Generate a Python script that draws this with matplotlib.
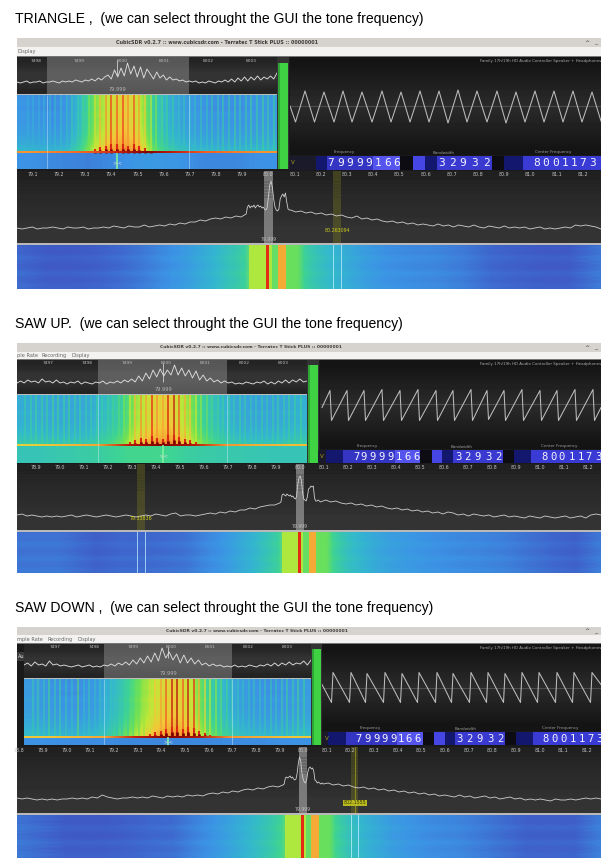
import matplotlib
matplotlib.use("Agg")
import matplotlib.pyplot as plt
import numpy as np
from matplotlib.colors import LinearSegmentedColormap
from matplotlib.patches import Rectangle

W, H = 613, 866

titles = ["TRIANGLE ,  (we can select throught the GUI the tone frequency)",
          "SAW UP.  (we can select throught the GUI the tone frequency)",
          "SAW DOWN ,  (we can select throught the GUI the tone frequency)"]
window_title = "CubicSDR v0.2.7 :: www.cubicsdr.com - Terratec T Stick PLUS :: 00000001"
device_name = "Family 17h/19h HD Audio Controller Speaker + Headphones"

# wide spectrum levels (height above floor), left of carrier / around carrier / right of carrier
tri_left = [15, 14, 15, 16, 14, 15, 15, 16, 15, 14, 16, 15, 15, 16, 14, 15, 15, 16, 15, 17, 16, 15, 17, 16,
            16, 18, 16, 17, 18, 17, 19, 18, 20, 19, 21, 21, 23, 22, 24, 25, 24, 26, 25, 27, 26, 29]
tri_mid = [36, 38, 35, 37, 36, 38, 35, 37, 38, 36, 37, 35, 36, 34, 33, 35, 46, 58, 62, 56, 44, 36, 33,
           32, 34, 44, 47, 49, 46, 50, 41, 34, 33]
tri_right = [33, 31, 32, 30, 31, 29, 30, 28, 29, 27, 28, 26, 25, 27, 24, 25, 23, 24, 22, 21, 22, 20, 21, 19,
             20, 18, 19, 18, 17, 19, 17, 18, 16, 18, 17, 16, 18, 16, 15, 17, 16, 15, 17, 15, 16, 15, 16, 14,
             15, 16, 14, 15, 14, 15, 16, 15, 18, 17, 18, 17, 16, 14]
saw_up_left = [15, 16, 14, 15, 14, 13, 14, 13, 14, 13, 14, 15, 13, 14, 15, 14, 13, 14, 15, 14, 13, 14, 15, 14,
               13, 14, 15, 14, 16, 15, 14, 16, 17, 14, 15, 15, 14, 15, 16, 17, 16, 18, 17, 19, 18, 20,
               20, 22, 21, 23, 24, 25, 25, 27]
saw_up_mid = [28, 35, 36, 35, 34, 36, 35, 34, 35, 33, 34, 32, 31, 33, 45, 52, 54, 50, 38, 31, 30,
              29, 33, 41, 42, 44, 43, 44, 32, 29, 29, 30, 29]
saw_up_right = [28, 30, 28, 29, 27, 26, 27, 25, 26, 24, 25, 23, 24, 22, 21, 22, 20, 21, 19, 20, 18, 19, 17, 18,
                16, 18, 17, 15, 16, 14, 16, 15, 14, 15, 13, 14, 15, 13, 14, 13, 12, 14, 13, 12, 14, 13, 12, 13,
                14, 12, 13, 14, 12, 15, 16, 15]
saw_dn_left = [15, 14, 15, 14, 13, 14, 13, 14, 13, 14, 14, 15, 14, 15, 14, 16, 15, 18, 16, 15, 14, 15, 15, 16,
               15, 16, 15, 17, 16, 15, 17, 16, 17, 16, 18, 17, 18, 17, 19, 20, 19, 21, 20, 22, 21, 23, 24, 23,
               25, 24, 26, 27, 26, 28]
saw_dn_mid = [29, 35, 36, 35, 36, 37, 35, 36, 34, 33, 34, 40, 50, 56, 52, 40, 34, 31, 30,
              33, 41, 45, 46, 44, 45, 42, 33, 32, 30, 31, 30, 29, 30]
saw_dn_right = [29, 30, 28, 29, 27, 28, 26, 25, 26, 24, 25, 23, 24, 22, 23, 21, 22, 20, 21, 19, 20, 18, 19, 17,
                18, 17, 16, 18, 16, 17, 15, 16, 17, 15, 16, 14, 15, 16, 14, 15, 13, 14, 13, 14, 13, 12, 14, 13,
                13, 14, 13, 14, 15, 14, 15, 14]

# zoomed spectrum levels above the waterfall
tri_zoom = [12, 11, 12, 13, 11, 12, 12, 13, 11, 12, 12, 13, 12, 11, 13, 12, 13, 12, 14, 13, 12, 14, 13, 15, 13,
            16, 14, 17, 19, 15, 24, 17, 26, 18, 31, 20, 28, 17, 27, 16, 25, 20, 15, 22, 16, 19, 14, 17, 14, 15,
            13, 14, 12, 13, 12, 13, 11, 12, 11, 13, 12, 11, 13, 12, 14, 12, 15, 12, 16, 13, 17, 13, 17, 14, 18,
            14, 17, 15, 18, 15, 21]
saw_up_zoom = [11, 13, 11, 14, 12, 13, 11, 15, 12, 13, 11, 14, 11, 12, 10, 12, 11, 13, 10, 12, 11, 10, 12, 11,
               13, 10, 12, 11, 13, 11, 14, 12, 15, 12, 18, 13, 21, 15, 24, 17, 25, 18, 24, 19, 29, 19, 26, 18,
               24, 16, 23, 14, 19, 13, 16, 12, 14, 11, 13, 11, 12, 10, 11, 10, 12, 11, 10, 12, 11, 13, 10, 12,
               10, 13, 11, 14, 11, 14, 12, 15, 12, 13]
saw_dn_zoom = [13, 15, 12, 16, 13, 14, 12, 17, 13, 14, 12, 13, 12, 11, 12, 13, 11, 12, 13, 11, 12, 11, 13, 12,
               14, 12, 15, 13, 16, 13, 18, 14, 20, 15, 22, 16, 25, 17, 30, 20, 26, 18, 24, 15, 23, 15, 20, 14,
               18, 13, 15, 12, 14, 12, 13, 11, 12, 11, 13, 11, 12, 11, 13, 12, 11, 13, 12, 14, 12, 15, 12, 15,
               13, 16, 13, 15, 14, 17, 13, 18]

# audio scope turning points: sample, amplitude
tri_scope_t = [0, 5.5, 15, 24.5, 34, 44, 53, 62, 72, 82, 92, 101, 111, 120, 130, 139, 149, 158, 168, 177, 187, 197,
               207, 216, 226, 235, 245, 254, 264, 273, 283, 292, 302, 311]
tri_scope_a = [0, -16, 15, -16, 14, -16, 15, -16, 14, -16, 15, -16, 14, -16, 15, -16, 15, -17, 16, -16, 15, -16,
               15, -17, 14, -16, 15, -16, 15, -16, 15, -16, 14, -15]
up_scope_t = [2, 10, 11.5, 27, 28.5, 44, 45.5, 62, 63.5, 80, 81.5, 98, 99.5, 116, 117.5, 133, 134.5, 151, 152.5,
              167, 168.5, 184, 185.5, 202, 203.5, 220, 221.5, 237, 238.5, 255, 256.5, 273, 274.5, 281]
up_scope_a = [-3, 14, -16, 14, -16, 14, -16, 15, -16, 14, -16, 15, -16, 14, -16, 14, -16, 15, -16, 14, -15,
              14, -16, 15, -16, 14, -16, 14, -16, 15, -16, 15, -16, -3]
dn_scope_t = [0, 9.5, 11, 27.5, 29, 43.5, 45, 61.5, 63, 78.5, 80, 95.5, 97, 113.5, 115, 129.5, 131, 147.5, 149,
              164.5, 166, 181.5, 183, 198.5, 200, 215.5, 217, 233.5, 235, 250.5, 252, 268.5, 270, 279]
dn_scope_a = [3, -15, 15, -15, 15, -15, 14, -15, 15, -15, 14, -15, 15, -15, 15, -15, 14, -15, 15, -15, 15,
              -15, 14, -15, 15, -15, 15, -15, 15, -15, 15, -15, 15, 3]

# waterfall column levels (0-1 on the colour scale)
tri_base = [0.24, 0.23, 0.22, 0.24, 0.38, 0.58, 0.68, 0.72, 0.66, 0.42, 0.32, 0.27, 0.24, 0.23, 0.23, 0.23, 0.24, 0.25]
up_base = [0.31, 0.30, 0.29, 0.29, 0.30, 0.36, 0.44, 0.62, 0.70, 0.72, 0.62, 0.45, 0.36, 0.30, 0.28, 0.28, 0.29, 0.32]
dn_base = [0.26, 0.24, 0.23, 0.23, 0.25, 0.34, 0.46, 0.60, 0.68, 0.72, 0.66, 0.46, 0.35, 0.27, 0.24, 0.23, 0.24, 0.26]
row_gain = [-0.02, -0.01, -0.02, 0.0, -0.01, 0.0, 0.01, 0.03, 0.05, 0.09]

tri_comb_bin = [11, 16, 22, 27, 33, 38, 44, 50, 55, 61, 66, 72, 78, 83, 89, 94, 100, 106, 111, 117, 122, 128, 134,
                139, 145, 150, 156, 162, 167, 173, 178, 184, 190, 195, 201, 206, 212, 218, 223, 229, 234, 240, 246,
                251, 257]
tri_comb_level = [0.30, 0.31, 0.30, 0.32, 0.32, 0.34, 0.35, 0.36, 0.40, 0.42, 0.47, 0.55, 0.66, 0.74, 0.80, 0.86,
                  0.84, 0.86, 0.80, 0.85, 0.78, 0.70, 0.62, 0.55, 0.48, 0.45, 0.42, 0.36, 0.38, 0.34, 0.36, 0.38,
                  0.36, 0.40, 0.38, 0.42, 0.40, 0.44, 0.40, 0.42, 0.44, 0.42, 0.45, 0.42, 0.44]
up_comb_bin = [8, 14, 19, 25, 30, 36, 41, 47, 52, 58, 63, 69, 74, 80, 85, 91, 96, 102, 107, 113, 118, 124, 129,
               135, 140, 146, 151, 157, 162, 168, 173, 179, 184, 190, 195, 201, 206, 212, 217, 223, 228, 234, 239,
               245, 250, 256, 261, 267, 272, 278, 284]
up_comb_level = [0.42, 0.44, 0.46, 0.45, 0.44, 0.47, 0.46, 0.45, 0.46, 0.44, 0.43, 0.42, 0.42, 0.44, 0.43, 0.44,
                 0.46, 0.50, 0.55, 0.64, 0.74, 0.80, 0.78, 0.88, 0.80, 0.78, 0.90, 0.92, 0.84, 0.76, 0.72, 0.64,
                 0.58, 0.54, 0.48, 0.46, 0.44, 0.44, 0.42, 0.44, 0.42, 0.40, 0.40, 0.42, 0.40, 0.42, 0.44, 0.42,
                 0.44, 0.44, 0.46]
dn_comb_bin = [9, 14, 20, 25, 31, 36, 42, 48, 54, 60, 65, 71, 76, 82, 87, 93, 98, 104, 109, 115, 120, 126, 131,
               137, 142, 148, 153, 159, 164, 170, 175, 181, 186, 192, 197, 203, 208, 214, 219, 225, 230, 236, 241,
               247, 252, 258, 263, 269, 274, 280]
dn_comb_level = [0.40, 0.42, 0.38, 0.46, 0.40, 0.42, 0.38, 0.36, 0.50, 0.34, 0.38, 0.34, 0.36, 0.34, 0.38, 0.36,
                 0.38, 0.42, 0.48, 0.52, 0.60, 0.66, 0.72, 0.78, 0.84, 0.92, 0.94, 0.84, 0.92, 0.88, 0.76, 0.68,
                 0.62, 0.56, 0.52, 0.46, 0.42, 0.38, 0.36, 0.36, 0.38, 0.36, 0.38, 0.40, 0.38, 0.42, 0.44, 0.42,
                 0.46, 0.44]
tri_floor = [0.22, 0.20, 0.19, 0.21, 0.24, 0.23, 0.20, 0.20, 0.22]
up_floor = [0.38, 0.40, 0.42, 0.46, 0.46, 0.42, 0.40, 0.39, 0.38]
dn_floor = [0.22, 0.21, 0.21, 0.20, 0.20, 0.20, 0.21, 0.21, 0.22]
tri_edge = [0.80, 0.82, 0.84, 0.92, 0.99, 0.92, 0.84, 0.82, 0.80]
up_edge = [0.70, 0.74, 0.78, 0.94, 0.99, 0.94, 0.80, 0.76, 0.74]
dn_edge = [0.72, 0.74, 0.78, 0.92, 0.99, 0.94, 0.80, 0.76, 0.72]

# history waterfall below the wide spectrum
fall_edges = [78.5, 78.9, 79.1, 79.2, 79.3, 79.4, 79.5, 79.55, 79.6, 79.65, 79.7, 79.74, 79.78, 79.82, 79.86, 79.9,
              79.925, 79.99, 80.003, 80.012, 80.035, 80.068, 80.1, 80.125, 80.15, 80.18, 80.21, 80.25, 80.3, 80.35,
              80.4, 80.5, 80.6, 80.7, 80.8, 80.9, 81.0, 81.1, 81.2, 81.4]
tri_fall = [0.17, 0.16, 0.13, 0.13, 0.14, 0.16, 0.18, 0.20, 0.22, 0.24, 0.27, 0.30, 0.33, 0.37, 0.40, 0.44,
            0.62, 0.89, 0.62, 0.52, 0.77, 0.53, 0.53, 0.44, 0.40, 0.37, 0.34, 0.31, 0.28, 0.25, 0.22, 0.21, 0.20,
            0.18, 0.15, 0.14, 0.13, 0.13, 0.19]
up_fall = [0.17, 0.17, 0.14, 0.15, 0.15, 0.16, 0.17, 0.19, 0.21, 0.23, 0.26, 0.29, 0.32, 0.36, 0.40, 0.44,
           0.62, 0.89, 0.62, 0.52, 0.77, 0.53, 0.53, 0.45, 0.41, 0.37, 0.34, 0.31, 0.28, 0.26, 0.24, 0.22, 0.21,
           0.20, 0.19, 0.17, 0.15, 0.14, 0.20]
dn_fall = [0.19, 0.13, 0.13, 0.14, 0.15, 0.16, 0.19, 0.21, 0.23, 0.26, 0.29, 0.32, 0.35, 0.38, 0.42, 0.46,
           0.62, 0.89, 0.62, 0.52, 0.77, 0.53, 0.53, 0.45, 0.41, 0.37, 0.34, 0.31, 0.28, 0.25, 0.23, 0.21, 0.20,
           0.18, 0.16, 0.14, 0.14, 0.14, 0.21]
fall_rows = [0.004, 0.008, -0.004, 0.0, 0.012, -0.004, -0.008, 0.0, 0.008, -0.008, -0.004, -0.008]

wide_ticks = [78.8, 78.9, 79.0, 79.1, 79.2, 79.3, 79.4, 79.5, 79.6, 79.7, 79.8, 79.9, 80.0, 80.1, 80.2, 80.3, 80.4,
              80.5, 80.6, 80.7, 80.8, 80.9, 81.0, 81.1, 81.2]
zoom_labels = ["7497", "7498", "7499", "8000", "8001", "8002", "8003"]
freq_digits = "79999166"
bw_digits = "32932"
center_digits = "80011735"

panels = [
    dict(title=titles[0], ty=19, top=38, bar=47, menu=57, zoom_x=(17, 277), zoom_b=94, fall_b=169, meter_x=(278, 288),
         meter_t=63, scope_x=290, scope_b=155, row_b=170, wide_t=171, wide_b=243, hist_b=289, bar_fs=3.47,
         xlim=(79.04, 81.27), sel=(47, 189), mid=117, title_x=116, foot=16.5, left=tri_left, mid_v=tri_mid,
         right=tri_right, zoom=tri_zoom, s_t=tri_scope_t, s_a=tri_scope_a, base=tri_base, bins=tri_comb_bin,
         lev=tri_comb_level, floor=tri_floor, edge=tri_edge, fall=tri_fall, marker=80.263, marker_text="80.263094",
         marker_off=-12, marker_bg=False, zl=[36, 79, 122, 164, 208, 251], zl_off=1, menus=[("Display", 17)],
         blocks=[316, 327, 373, 400, 413, 425, 437, 492, 504, 523], d1=[331 + 9.4 * i for i in range(8)],
         d2=[442, 453, 463, 475, 486], d3=[537, 546, 556, 565, 574, 583, 593, 602], dfs=8.0, lab=(344, 444, 553),
         vbox=289),
    dict(title=titles[1], ty=324, top=343, bar=352, menu=360, zoom_x=(17, 307), zoom_b=394, fall_b=463, meter_x=(308, 318),
         meter_t=365, scope_x=320, scope_b=449, row_b=463, wide_t=464, wide_b=530, hist_b=573, bar_fs=3.16,
         xlim=(78.82, 81.254), sel=(98, 227), mid=163, title_x=160, foot=18, left=saw_up_left, mid_v=saw_up_mid,
         right=saw_up_right, zoom=saw_up_zoom, s_t=up_scope_t, s_a=up_scope_a, base=up_base, bins=up_comb_bin,
         lev=up_comb_level, floor=up_floor, edge=up_edge, fall=up_fall, marker=79.337, marker_text="79.33836",
         marker_off=-11, marker_bg=False, zl=[48, 87, 127, 166, 205, 244, 283], zl_off=0,
         menus=[("ple Rate", 17), ("Recording", 41), ("Display", 71)],
         blocks=[326, 343, 395, 420, 432, 442, 453, 503, 514, 531],
         d1=[356, 364, 373, 382, 391, 399, 408, 417], d2=[458, 467, 478, 488, 498],
         d3=[545, 554, 562, 572, 581, 589, 598], dfs=7.6, lab=(367, 462, 559), vbox=318),
    dict(title=titles[2], ty=608, top=627, bar=635, menu=644, zoom_x=(24, 311), zoom_b=678, fall_b=745, meter_x=(312, 321),
         meter_t=649, scope_x=322, scope_b=731, row_b=745, wide_t=747, wide_b=813, hist_b=858, bar_fs=3.13,
         xlim=(78.79, 81.26), sel=(104, 232), mid=168, title_x=166, foot=8, left=saw_dn_left, mid_v=saw_dn_mid,
         right=saw_dn_right, zoom=saw_dn_zoom, s_t=dn_scope_t, s_a=dn_scope_a, base=dn_base, bins=dn_comb_bin,
         lev=dn_comb_level, floor=dn_floor, edge=dn_edge, fall=dn_fall, marker=80.218, marker_text="802.1555",
         marker_off=-10, marker_bg=True, zl=[55, 94, 133, 171, 210, 248, 287], zl_off=0,
         menus=[("mple Rate", 17), ("Recording", 48), ("Display", 78)],
         blocks=[328, 346, 397, 423, 434, 445, 455, 505, 516, 533],
         d1=[359, 368, 377, 385, 394, 401, 409, 418], d2=[459, 469, 480, 490, 500],
         d3=[546, 555, 564, 573, 582, 590, 599], dfs=7.6, lab=(370, 466, 560), vbox=323),
]

sdr_cmap = LinearSegmentedColormap.from_list("sdr", [
    (0.0, "#2a2c8c"), (0.12, "#3f58c4"), (0.22, "#3c94e6"), (0.33, "#33b8cf"), (0.45, "#3ed494"),
    (0.55, "#74e250"), (0.64, "#bfe838"), (0.72, "#f2c838"), (0.79, "#f6a034"), (0.88, "#ee3016"),
    (1.0, "#7a0000")])

plt.rcParams['font.family'] = ['Liberation Sans', 'DejaVu Sans']
fig = plt.figure(figsize=(W / 100, H / 100), dpi=100, facecolor="white")


def px_axes(x0, y0, x1, y1, z=1):
    ax = fig.add_axes([x0 / W, 1 - y1 / H, (x1 - x0) / W, (y1 - y0) / H], zorder=z)
    ax.set_axis_off()
    return ax


canvas = px_axes(0, 0, W, H, 0)
canvas.set_xlim(0, W)
canvas.set_ylim(H, 0)
labels = px_axes(0, 0, W, H, 10)
labels.set_xlim(0, W)
labels.set_ylim(H, 0)


def box(x0, y0, x1, y1, color):
    canvas.add_patch(Rectangle((x0, y0), x1 - x0, y1 - y0, facecolor=color, edgecolor="none"))


def small(x, y, s, color="#bdbdbd", size=3.6, ha="center", **kw):
    labels.text(x, y, s, color=color, fontsize=size, ha=ha, va="center", family="DejaVu Sans", **kw)


def backdrop(ax, levels, x_range, y_range):
    ax.imshow(np.array(levels)[:, None], cmap="gray", vmin=0, vmax=1, aspect="auto", extent=[*x_range, *y_range],
              interpolation="bilinear", origin="upper", zorder=0)


def draw_chrome(p):
    labels.text(15, p["ty"], p["title"], fontsize=10.05, color="#000000", va="center", ha="left")
    box(17, p["top"], 601, p["bar"], "#d6d3ce")
    box(17, p["bar"], 601, p["menu"] - 1, "#f3f2f0")
    box(17, p["menu"] - 1, 601, p["menu"], "#777777")
    box(17, p["menu"], 601, p["hist_b"], "#1a1a1a")
    small(p["title_x"], (p["top"] + p["bar"]) / 2, window_title, color="#3c3c3c", size=p["bar_fs"], ha="left", weight="bold")
    small(587, (p["top"] + p["bar"]) / 2, "^", color="#333333", size=4.5)
    small(596, (p["top"] + p["bar"]) / 2, "_", color="#333333", size=4.5)
    for text, x in p["menus"]:
        small(x, (p["bar"] + p["menu"]) / 2, text, color="#666666", size=3.6, ha="left")
    if p["zoom_x"][0] > 17:
        box(17, p["menu"] + 8, p["zoom_x"][0], p["menu"] + 17, "#3a3a3a")
        small(18, p["menu"] + 12.5, "Au", color="#e0e0e0", size=3.6, ha="left")


def draw_zoom_spectrum(p):
    x0, x1 = p["zoom_x"]
    y0, y1 = p["menu"], p["zoom_b"]
    ax = px_axes(x0, y0, x1, y1, 2)
    backdrop(ax, [0.14, 0.16, 0.2, 0.2, 0.17, 0.14], (x0, x1), (0, y1 - y0))
    ax.add_patch(Rectangle((p["sel"][0], 0), p["sel"][1] - p["sel"][0], y1 - y0, facecolor="#8a8a8a", alpha=0.5,
                           edgecolor="none"))
    ax.plot(np.linspace(x0, x1, len(p["zoom"])), p["zoom"], color="#dddddd", lw=0.65)
    ax.vlines(p["mid"], p["zoom"][len(p["zoom"]) // 2] - 6, y1 - y0 - 3, color="#e8e8e8", lw=0.5)
    ax.set_xlim(x0, x1)
    ax.set_ylim(0, y1 - y0)
    for x, s in zip(p["zl"], zoom_labels[p["zl_off"]:] + zoom_labels[:p["zl_off"]]):
        small(x, y0 + 3.5, s, size=3.2)
    small(p["mid"], y1 - 4.5, "79.999", color="#b5b5b5", size=3.6)
    box(x0, y1, x1, y1 + 1, "#bcbcbc")


def draw_waterfall(p):
    x0, x1 = p["zoom_x"]
    y0, y1 = p["zoom_b"] + 1, p["fall_b"]
    width, height = x1 - x0, y1 - y0
    foot = p["foot"]
    ax = px_axes(x0, y0, x1, y1, 2)
    upper = np.add.outer(np.array(row_gain), np.array(p["base"]))
    ax.imshow(upper, cmap=sdr_cmap, vmin=0, vmax=1, aspect="auto", interpolation="bilinear",
              extent=[0, width, foot, height], origin="upper")
    ax.imshow(np.array([p["floor"], p["floor"]]), cmap=sdr_cmap, vmin=0, vmax=1, aspect="auto",
              interpolation="bilinear", extent=[0, width, 0, foot], origin="upper")
    levels = np.array(p["lev"])
    bins = np.array(p["bins"])
    faint = levels < 0.55
    ax.vlines(bins[faint], foot, height, colors=sdr_cmap(levels[faint]), lw=1.5, alpha=0.55)
    ax.vlines(bins[~faint], foot, height, colors=sdr_cmap(levels[~faint]), lw=1.2, alpha=0.85)
    reach = np.clip(levels - 0.55, 0, None) * 28
    ax.vlines(bins, foot, foot + reach, colors=sdr_cmap(0.9), lw=1.5)
    ax.vlines(bins, foot, foot + reach * 0.45, colors=sdr_cmap(1.0), lw=1.9)
    ax.imshow(np.array([p["edge"]]), cmap=sdr_cmap, vmin=0, vmax=1, aspect="auto", interpolation="bilinear",
              extent=[0, width, foot - 0.8, foot + 1.2], zorder=3)
    mid = p["mid"] - x0
    ax.vlines(mid, 0, foot, colors="#7df0a0", lw=1.2, zorder=4)
    for edge in p["sel"]:
        ax.vlines(edge - x0, 0, height, colors="#d5f3ff", lw=0.5, alpha=0.6, zorder=4)
    ax.set_xlim(0, width)
    ax.set_ylim(0, height)
    small(p["mid"], y1 - max(foot * 0.35, 3), ">|<", color="#dddddd", size=3.5)
    # level meter
    mx0, mx1 = p["meter_x"]
    box(mx0 - 1, p["menu"], mx1 + 1, y1, "#333333")
    box(mx0, p["meter_t"], mx1, y1, "#3fd344")
    box(mx0, p["meter_t"], mx0 + 1.5, y1, "#2ea536")


def draw_scope(p):
    x0 = p["scope_x"]
    y0, y1 = p["menu"], p["scope_b"]
    ax = px_axes(x0, y0, 601, y1, 2)
    backdrop(ax, [0.08, 0.11, 0.14, 0.17, 0.14, 0.11, 0.08], (0, 601 - x0), (-(y1 - y0) / 2, (y1 - y0) / 2))
    ax.hlines(0, 0, 601 - x0, color="#555555", lw=0.6)
    ax.plot(p["s_t"], p["s_a"], color="#bdbdbd", lw=0.75)
    ax.set_xlim(0, 601 - x0)
    ax.set_ylim(-(y1 - y0) / 2, (y1 - y0) / 2)
    small(601, y0 + 4, device_name, color="#a8a8a8", size=2.93, ha="right", clip_on=True)


def draw_digits(p):
    y0, y1 = p["scope_b"] + 1, p["row_b"]
    b = p["blocks"]
    box(p["vbox"], y0, b[0], y1, "#1a1a2a")
    small(p["vbox"] + 4, (y0 + y1) / 2, "V", color="#b0a020", size=4)
    colors = ["#14176e", "#3535c4", "#5555ee", "#0c0c12", "#4646e4", "#14176e", "#3a3ad0", "#0c0c12", "#14176e"]
    for i, col in enumerate(colors):
        box(b[i], y0, b[i + 1], y1, col)
    box(b[-1], y0, 601, y1, "#3a3ad4")
    mid = (y0 + y1) / 2
    for xs, text in ((p["d1"], freq_digits), (p["d2"], bw_digits), (p["d3"], center_digits)):
        for x, ch in zip(xs, text):
            if x < 600:
                labels.text(x, mid, ch, color="#f4f4ff", fontsize=p["dfs"], ha="center", va="center",
                            family="DejaVu Sans Mono")
    for x, text in zip(p["lab"], ("Frequency", "Bandwidth", "Center Frequency")):
        small(x, y0 - 3.5, text, color="#9a9a9a", size=3.0)


def draw_wide(p):
    y0, y1 = p["wide_t"], p["wide_b"]
    ax = px_axes(17, y0, 601, y1, 2)
    xlim = p["xlim"]
    backdrop(ax, [0.13, 0.14, 0.16, 0.17, 0.18, 0.2, 0.2], xlim, (0, y1 - y0))
    ax.hlines(np.arange(y1 - y0 - 26, y1 - y0 - 8, 3), *xlim, color="#2e2e2e", lw=0.3)
    ax.axvspan(p["marker"] - 0.016, p["marker"] + 0.016, color="#7a7a20", alpha=0.38, lw=0)
    ax.axvspan(79.984, 80.016, color="#9a9a9a", alpha=0.7, lw=0)
    if p["marker_bg"]:
        ax.axvline(p["marker"], color="#a0a020", lw=0.5)
    x_left = np.linspace(xlim[0], 79.915, len(p["left"]))
    x_mid = np.linspace(79.92, 80.08, len(p["mid_v"]))
    x_right = np.linspace(80.085, xlim[1], len(p["right"]))
    ax.plot(np.r_[x_left, x_mid, x_right], np.r_[p["left"], p["mid_v"], p["right"]], color="#cfcfcf", lw=0.6)
    ax.set_xlim(*xlim)
    ax.set_ylim(0, y1 - y0)
    # tick labels along the top of the wide spectrum
    scale = 584 / (xlim[1] - xlim[0])
    for t in wide_ticks:
        if t >= xlim[0]:
            small(17 + (t - xlim[0]) * scale, y0 + 3.5, f"{t:.1f}", color="#c4c4c4", size=3.4)
    x_m = 17 + (p["marker"] - xlim[0]) * scale
    x_c = 17 + (80.0 - xlim[0]) * scale
    small(x_c, y1 - 3.5, "79.999", color="#c0c0c0", size=3.3)
    box_kw = dict(bbox=dict(facecolor="#b8b820", edgecolor="none", pad=0.4)) if p["marker_bg"] else {}
    small(x_m, y1 + p["marker_off"], p["marker_text"], color="#3a3a00" if p["marker_bg"] else "#d0d020", size=3.4, **box_kw)
    box(17, y1, 601, y1 + 2, "#b9b9b9")
    ax2 = px_axes(17, y1 + 2, 601, p["hist_b"], 2)
    lev = np.array(p["fall"])
    rows = np.array(fall_rows)
    grid = lev + np.outer(rows, (lev < 0.5) * 1.0)
    edges = np.array(fall_edges)
    centers = (edges[:-1] + edges[1:]) / 2
    row_mid = np.arange(len(rows)) + 0.5
    ax2.pcolormesh(centers, row_mid, grid, cmap=sdr_cmap, vmin=0, vmax=1, shading="gouraud")
    # sharp bands around the carrier stay flat
    ax2.pcolormesh(edges[16:23], [row_mid[0], row_mid[-1]], lev[16:22][None, :], cmap=sdr_cmap, vmin=0, vmax=1,
                   shading="flat")
    ax2.vlines([p["marker"] - 0.016, p["marker"] + 0.016], 0, len(rows), color="#c8f4ff", lw=0.5)
    ax2.set_xlim(*xlim)
    ax2.set_ylim(row_mid[0], row_mid[-1])


for p in panels:
    draw_chrome(p)
    draw_zoom_spectrum(p)
    draw_waterfall(p)
    draw_scope(p)
    draw_digits(p)
    draw_wide(p)

fig.savefig("out.png", dpi=100)
